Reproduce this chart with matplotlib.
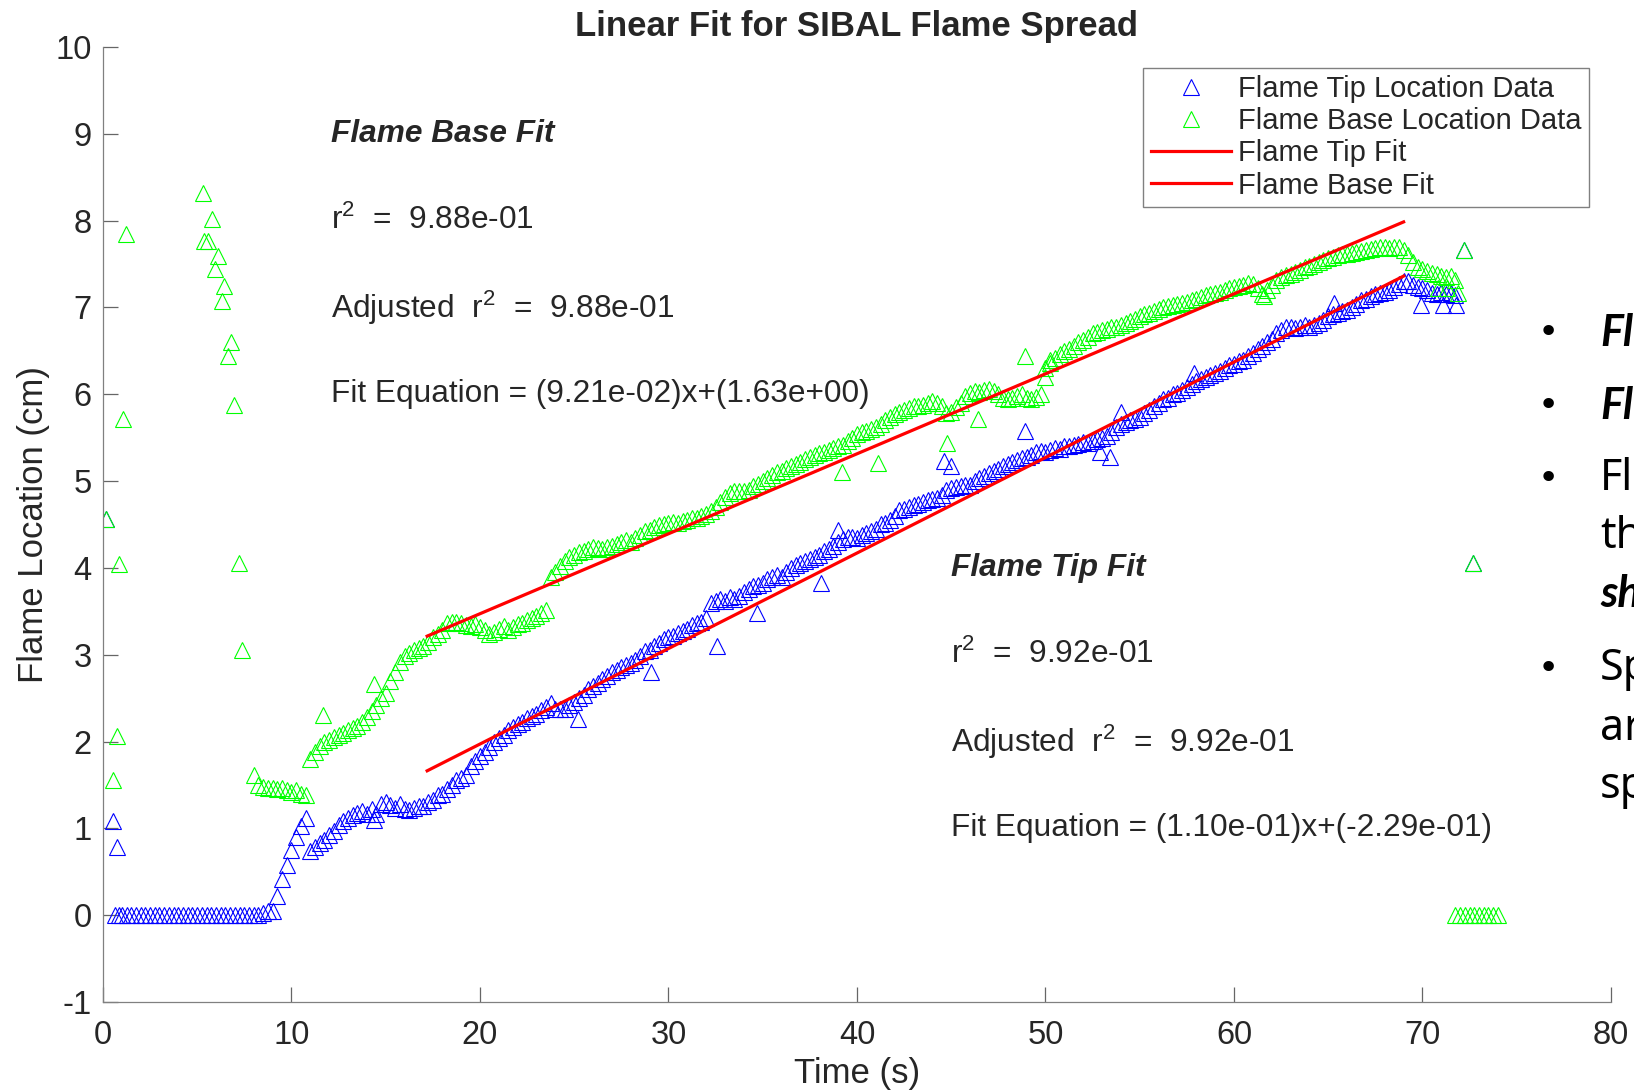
"""
Linear fit of SIBAL flame tip / flame base location vs time.
"""
import numpy as np
import matplotlib
matplotlib.use("Agg")
import matplotlib.pyplot as plt

plt.rcParams['font.family'] = ['Liberation Sans', 'DejaVu Sans']
plt.rcParams['mathtext.fontset'] = 'custom'
plt.rcParams['mathtext.rm'] = 'Liberation Sans'
plt.rcParams['mathtext.it'] = 'Liberation Sans:italic'
plt.rcParams['axes.unicode_minus'] = False

# ---- data -------------------------------------------------------------
# regular samples every 0.25 s
DT = 0.25
TIP_T0 = 1.0
tip_loc = [
    0, 0, 0, 0, 0, 0, 0, 0,
    0, 0, 0, 0, 0, 0, 0, 0,
    0, 0, 0, 0, 0, 0, 0, 0,
    0, 0, 0, 0, 0, 0, 0.02, 0.05,
    0.05, 0.22, 0.42, 0.58, 0.75, 0.9, 1.03, 1.12,
    0.74, 0.79, 0.83, 0.87, 0.92, 0.97, 1.04, 1.08,
    1.12, 1.15, 1.18, 1.2, 1.17, 1.22, 1.16, 1.28,
    1.3, 1.27, 1.24, 1.28, 1.22, 1.21, 1.24, 1.26,
    1.26, 1.3, 1.33, 1.38, 1.4, 1.45, 1.5, 1.56,
    1.58, 1.62, 1.72, 1.78, 1.83, 1.88, 1.94, 2.0,
    2.04, 2.08, 2.13, 2.17, 2.2, 2.22, 2.27, 2.3,
    2.32, 2.36, 2.4, 2.44, 2.38, 2.37, 2.37, 2.42,
    2.45, 2.5, 2.54, 2.6, 2.64, 2.68, 2.72, 2.76,
    2.8, 2.82, 2.86, 2.88, 2.91, 2.94, 2.98, 3.04,
    3.06, 3.1, 3.14, 3.18, 3.2, 3.22, 3.25, 3.27,
    3.3, 3.34, 3.37, 3.38, 3.42, 3.6, 3.62, 3.64,
    3.62, 3.67, 3.64, 3.68, 3.72, 3.76, 3.79, 3.8,
    3.83, 3.87, 3.9, 3.92, 3.9, 3.95, 4.0, 4.03,
    4.06, 4.08, 4.1, 4.12, 4.15, 4.2, 4.22, 4.25,
    4.3, 4.33, 4.36, 4.36, 4.34, 4.38, 4.4, 4.42,
    4.45, 4.5, 4.52, 4.55, 4.6, 4.67, 4.68, 4.7,
    4.72, 4.74, 4.76, 4.78, 4.79, 4.8, 4.84, 4.9,
    4.92, 4.93, 4.94, 4.95, 4.96, 5.0, 5.04, 5.06,
    5.09, 5.12, 5.14, 5.17, 5.2, 5.22, 5.24, 5.27,
    5.28, 5.3, 5.33, 5.35, 5.34, 5.36, 5.38, 5.37,
    5.4, 5.4, 5.42, 5.43, 5.45, 5.44, 5.46, 5.48,
    5.5, 5.52, 5.56, 5.62, 5.66, 5.68, 5.7, 5.72,
    5.74, 5.78, 5.82, 5.86, 5.9, 5.94, 5.96, 6.0,
    6.02, 6.05, 6.08, 6.12, 6.15, 6.18, 6.2, 6.22,
    6.25, 6.27, 6.3, 6.34, 6.35, 6.38, 6.4, 6.44,
    6.48, 6.52, 6.56, 6.6, 6.64, 6.7, 6.74, 6.77,
    6.78, 6.76, 6.78, 6.8, 6.78, 6.8, 6.82, 6.86,
    6.9, 6.92, 6.94, 6.96, 6.97, 7.0, 7.04, 7.08,
    7.1, 7.13, 7.15, 7.17, 7.18, 7.2, 7.24, 7.27,
    7.3, 7.3, 7.26, 7.24, 7.22, 7.2, 7.17, 7.16,
    7.18, 7.16, 7.17, 7.14,
]
# off-grid / stray tip points (time, location)
tip_extra_t = [0.16, 0.51, 0.62, 0.74, 0.85, 14.4, 25.2, 29.1, 32.6, 34.7,
               38.1, 39.0, 44.6, 45.0, 48.9, 52.9, 53.4, 54.0, 57.9, 65.3,
               69.9, 71.1, 71.8, 72.2, 72.7]
tip_extra_y = [4.56, 1.09, 0.0, 0.79, 0.0, 1.10, 2.26, 2.80, 3.10, 3.48,
               3.83, 4.44, 5.23, 5.17, 5.58, 5.33, 5.28, 5.80, 6.25, 7.05,
               7.03, 7.03, 7.03, 7.66, 4.06]

BASE_T0 = 8.0
base_loc = [
    1.62, 1.5, 1.48, 1.47, 1.46, 1.45, 1.47, 1.44,
    1.42, 1.44, 1.40, 1.38, 1.8, 1.88, 1.95, 1.99,
    2.02, 2.05, 2.08, 2.1, 2.13, 2.16, 2.18, 2.22,
    2.28, 2.35, 2.42, 2.5, 2.56, 2.7, 2.8, 2.92,
    2.98, 3.02, 3.05, 3.08, 3.1, 3.15, 3.2, 3.24,
    3.28, 3.36, 3.38, 3.38, 3.36, 3.34, 3.33, 3.35,
    3.32, 3.28, 3.24, 3.26, 3.3, 3.33, 3.28, 3.32,
    3.35, 3.37, 3.4, 3.42, 3.45, 3.48, 3.52, 3.9,
    3.95, 4.02, 4.08, 4.12, 4.15, 4.18, 4.2, 4.22,
    4.24, 4.23, 4.22, 4.24, 4.25, 4.28, 4.3, 4.32,
    4.3, 4.34, 4.38, 4.42, 4.44, 4.47, 4.49, 4.5,
    4.52, 4.53, 4.52, 4.54, 4.55, 4.57, 4.58, 4.6,
    4.62, 4.66, 4.7, 4.76, 4.82, 4.86, 4.88, 4.89,
    4.88, 4.9, 4.94, 4.97, 5.0, 5.04, 5.07, 5.1,
    5.12, 5.15, 5.17, 5.2, 5.22, 5.25, 5.28, 5.3,
    5.32, 5.34, 5.36, 5.38, 5.4, 5.42, 5.46, 5.5,
    5.54, 5.56, 5.58, 5.6, 5.62, 5.66, 5.7, 5.74,
    5.77, 5.8, 5.82, 5.84, 5.86, 5.87, 5.88, 5.9,
    5.92, 5.9, 5.86, 5.78, 5.8, 5.85, 5.9, 5.98,
    6.02, 6.04, 6.03, 6.05, 6.06, 6.04, 6.0, 5.96,
    5.94, 5.96, 5.98, 6.0, 5.96, 5.94, 5.97, 6.0,
    6.2, 6.36, 6.42, 6.46, 6.5, 6.52, 6.56, 6.6,
    6.63, 6.66, 6.7, 6.72, 6.74, 6.75, 6.77, 6.78,
    6.8, 6.82, 6.84, 6.87, 6.9, 6.92, 6.94, 6.96,
    6.98, 7.0, 7.02, 7.03, 7.04, 7.05, 7.06, 7.08,
    7.1, 7.12, 7.14, 7.15, 7.17, 7.18, 7.2, 7.22,
    7.24, 7.25, 7.26, 7.28, 7.27, 7.22, 7.16, 7.2,
    7.26, 7.32, 7.35, 7.37, 7.39, 7.41, 7.43, 7.46,
    7.48, 7.5, 7.52, 7.55, 7.57, 7.58, 7.6, 7.61,
    7.62, 7.63, 7.64, 7.65, 7.66, 7.67, 7.68, 7.7,
    7.7, 7.69, 7.7, 7.7, 7.66, 7.6, 7.52, 7.46,
    7.44, 7.42, 7.4, 7.38, 7.36, 7.35, 7.36, 7.32,
]
base_extra_t = [0.16, 0.55, 0.74, 0.87, 1.08, 1.22, 5.29, 5.37, 5.59, 5.77,
                5.94, 6.08, 6.30, 6.44, 6.61, 6.79, 6.97, 7.23, 7.37,
                11.65, 14.4, 39.2, 41.1, 44.8, 46.4, 48.9, 50.0, 50.25,
                61.6, 70.8, 71.3, 71.9, 72.2, 72.7,
                71.75, 72.0, 72.25, 72.5, 72.75, 73.0, 73.25, 73.5, 73.75, 74.0]
base_extra_y = [4.56, 1.56, 2.06, 4.04, 5.72, 7.85, 8.32, 7.77, 7.77, 8.02,
                7.44, 7.59, 7.07, 7.25, 6.44, 6.60, 5.88, 4.06, 3.06,
                2.31, 2.66, 5.10, 5.21, 5.44, 5.71, 6.44, 6.30, 6.40,
                7.13, 7.22, 7.22, 7.17, 7.66, 4.06,
                0, 0, 0, 0, 0, 0, 0, 0, 0, 0]

# linear fit results (slope, intercept) and fitted time span
tip_fit = (1.10e-01, -2.29e-01)
base_fit = (9.21e-02, 1.63e+00)
fit_span = [17.2, 69.0]

base_text = ["Flame Base Fit", r"r$^2$  =  9.88e-01",
             r"Adjusted  r$^2$  =  9.88e-01",
             "Fit Equation = (9.21e-02)x+(1.63e+00)"]
tip_text = ["Flame Tip Fit", r"r$^2$  =  9.92e-01",
            r"Adjusted  r$^2$  =  9.92e-01",
            "Fit Equation = (1.10e-01)x+(-2.29e-01)"]

# slide bullet text, cut off by the right edge of the screenshot
slide_lines = ["Fl", "Fl", "Fl", "th", "sh", "Sp", "ar", "sp"]
slide_bold = [True, True, False, False, True, False, False, False]
slide_y = [320, 390, 460, 515, 570, 642, 700, 755]   # px in 1048-high view
bullet_rows = [0, 1, 2, 5]


def sample_times(t0, n):
    return t0 + DT * np.arange(n)


tip_t = np.concatenate([tip_extra_t[:5], sample_times(TIP_T0, len(tip_loc)), tip_extra_t[5:]])
tip_y = np.concatenate([tip_extra_y[:5], tip_loc, tip_extra_y[5:]])
base_t = np.concatenate([base_extra_t[:19], sample_times(BASE_T0, len(base_loc)), base_extra_t[19:]])
base_y = np.concatenate([base_extra_y[:19], base_loc, base_extra_y[19:]])

fig = plt.figure(figsize=(16.34, 10.92), dpi=100)
ax = fig.add_axes([0.063, 0.0824, 0.9229, 0.8746])

mk = dict(linestyle='none', marker='^', markersize=11.5, markerfacecolor='none',
          markeredgewidth=0.8)
ax.plot(tip_t, tip_y, color=(0, 0, 1), label='Flame Tip Location Data', **mk)
ax.plot(base_t, base_y, color=(0, 1, 0), label='Flame Base Location Data', **mk)

xs = np.array(fit_span)
ax.plot(xs, tip_fit[0] * xs + tip_fit[1], color='red', lw=2.3, label='Flame Tip Fit')
ax.plot(xs, base_fit[0] * xs + base_fit[1], color='red', lw=2.3, label='Flame Base Fit')

ax.set_xlim(0, 80)
ax.set_ylim(-1, 10)
ax.set_xticks(np.arange(0, 81, 10))
ax.set_yticks(np.arange(-1, 11, 1))
for s in ['top', 'right']:
    ax.spines[s].set_visible(False)
for s in ['left', 'bottom']:
    ax.spines[s].set_color('0.5')
    ax.spines[s].set_linewidth(0.9)
ax.tick_params(direction='in', length=11, width=0.9, color='0.4',
               labelsize=23.5, labelcolor='0.15')
ax.tick_params(axis='x', pad=13)
ax.tick_params(axis='y', pad=8)

ax.set_title("Linear Fit for SIBAL Flame Spread", fontsize=25, fontweight='bold',
             color='0.15', pad=8)
ax.set_xlabel("Time (s)", fontsize=25, color='0.15', labelpad=4)
ax.set_ylabel("Flame Location (cm)", fontsize=25, color='0.15', labelpad=4)

# fit annotations
for i, s in enumerate(base_text):
    kw = dict(fontweight='bold', fontstyle='italic') if i == 0 else {}
    ax.text(12.1, 9 - i, s, fontsize=22.8, color='0.15', va='center', **kw)
for i, s in enumerate(tip_text):
    kw = dict(fontweight='bold', fontstyle='italic') if i == 0 else {}
    ax.text(45.0, 4 - i, s, fontsize=22.8, color='0.15', va='center', **kw)

leg = ax.legend(loc='upper right', bbox_to_anchor=(1589 / 1634, 1 - 68 / 1092),
                bbox_transform=fig.transFigure, fontsize=21, frameon=True,
                fancybox=False, edgecolor='0.5', framealpha=1,
                handlelength=2.75, handletextpad=0.25, labelspacing=0.14,
                borderpad=0.25, borderaxespad=0)
leg.get_frame().set_linewidth(1.0)
for t in leg.get_texts():
    t.set_color('0.15')

# slide text on the right, cut off at the picture edge
tx = 1600 / 1634
for word, bold, yd in zip(slide_lines, slide_bold, slide_y):
    yf = 1 - yd / 1048
    if bold:
        fig.text(tx, yf, word, fontsize=31, family=['Lato', 'Noto Sans'],
                 fontweight='bold', fontstyle='italic', va='center', color='black')
    else:
        fig.text(tx, yf, word, fontsize=31, family='Noto Sans', va='center',
                 color='black')
for r in bullet_rows:
    fig.text(1538 / 1634, 1 - slide_y[r] / 1048, "\u2022", fontsize=26,
             family='DejaVu Sans', va='center', color='black')

fig.savefig("out.png", dpi=100)
